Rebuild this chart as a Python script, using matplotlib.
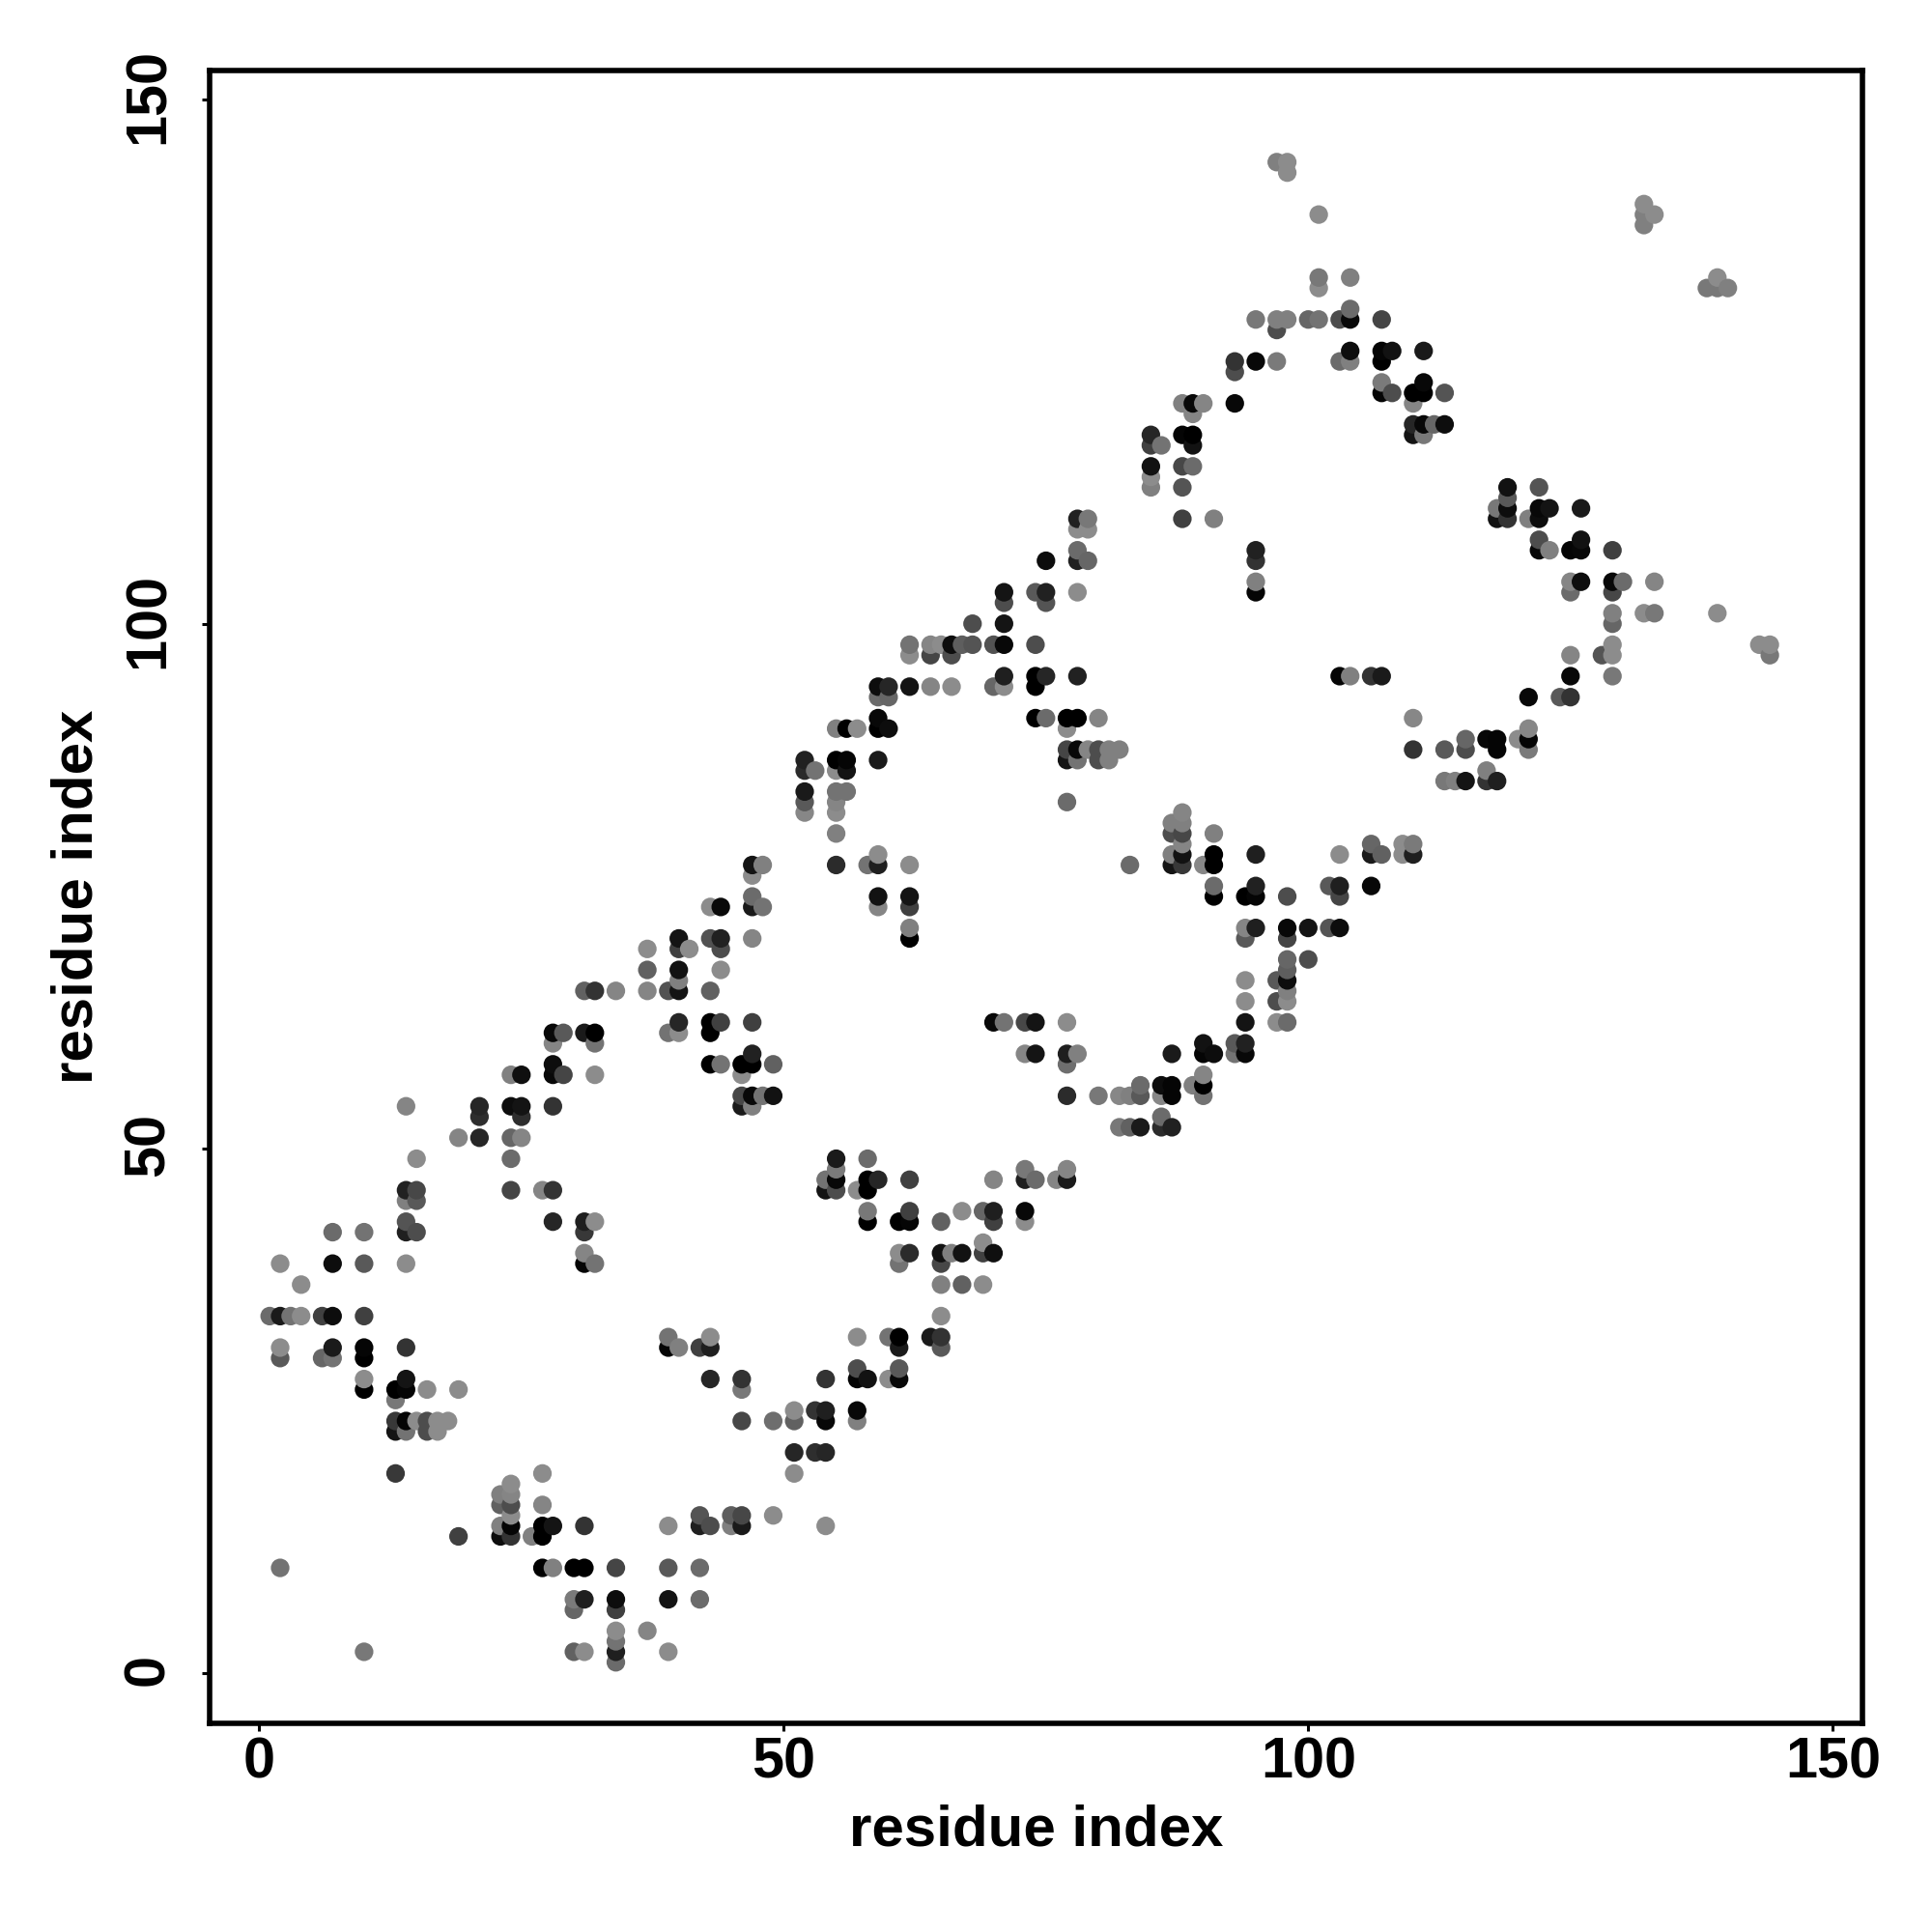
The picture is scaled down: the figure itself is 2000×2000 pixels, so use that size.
import numpy as np
import matplotlib
matplotlib.use("Agg")
import matplotlib.pyplot as plt
from matplotlib.transforms import ScaledTranslation

plt.rcParams['font.family'] = ['Liberation Sans', 'DejaVu Sans']

# contacts, one entry per row of the map
row_y = [1, 2, 3, 4, 6, 7, 10, 13, 14, 15, 16, 17, 18, 19, 21, 23, 24, 25, 26, 27,
         28, 29, 30, 31, 32, 34, 37, 39, 40, 41, 42, 43, 44, 45, 46, 47, 48, 49, 51,
         52, 53, 54, 55, 56, 57, 58, 59, 60, 61, 62, 64, 65, 66, 67, 68, 69, 70, 71, 73,
         74, 75, 76, 77, 78, 79, 80, 81, 82, 83, 84, 85, 86, 87, 88, 89, 90, 91, 93, 94, 95,
         97, 98, 100, 101, 102, 103, 104, 106, 107, 108, 109, 110, 111, 112, 113, 114, 115, 117, 118, 119,
         120, 121, 122, 123, 124, 125, 126, 128, 129, 130, 132, 133, 138, 139, 140, 143, 144]

row_x = [
    [34],
    [10, 30, 31, 34, 39],
    [34],
    [34, 37],
    [30, 34],
    [30, 31, 34, 39, 42],
    [2, 27, 28, 30, 31, 34, 39, 42],
    [19, 23, 24, 26, 27],
    [23, 24, 27, 28, 31, 39, 42, 43, 45, 46, 54],
    [24, 42, 45, 46, 49],
    [23, 24, 27],
    [23, 24],
    [24],
    [13, 27, 51],
    [51, 53, 54],
    [13, 14, 16, 17],
    [13, 14, 15, 16, 17, 18, 46, 49, 51, 54, 57],
    [51, 53, 54, 57],
    [13],
    [10, 13, 14, 16, 19, 46],
    [10, 14, 43, 46, 54, 57, 58, 60, 61],
    [57, 61],
    [2, 6, 7, 10],
    [2, 7, 10, 14, 39, 40, 42, 43, 61, 65],
    [39, 43, 57, 60, 61, 64, 65],
    [1, 2, 3, 4, 6, 7, 10, 65],
    [4, 65, 67, 69],
    [2, 7, 10, 14, 31, 32, 61, 65],
    [31, 61, 62, 65, 66, 67, 69, 70],
    [69],
    [7, 10, 14, 15, 31],
    [14, 28, 31, 32, 58, 61, 62, 65, 70, 73],
    [58, 62, 67, 69, 70, 73],
    [14, 15],
    [14, 15, 24, 27, 28, 54, 55, 57, 58],
    [54, 55, 58, 59, 62, 70, 73, 74, 76, 77],
    [55, 73, 77],
    [15, 24, 55, 58],
    [19, 21, 24, 25],
    [82, 83, 84, 86, 87],
    [21, 25, 86],
    [14, 21, 24, 25, 28, 46, 47],
    [46, 47, 48, 49, 77, 80, 82, 83, 84, 86, 87, 90],
    [84, 86, 87, 89, 90],
    [24, 25, 28, 29, 32, 46, 90],
    [28, 43, 44, 46, 47, 49, 77],
    [47, 73, 74, 77, 78, 87, 90, 91, 93, 94],
    [28, 32, 90, 93, 94],
    [28, 29, 31, 32, 39, 40, 43],
    [40, 43, 44, 47, 70, 71, 73, 74, 77, 94, 97, 98],
    [94, 97, 98],
    [31, 32, 34, 37, 39, 40, 43, 98],
    [40, 94, 97, 98],
    [37, 40, 44, 98],
    [98, 100],
    [37, 40, 41, 44],
    [40, 43, 44, 47, 62, 94, 98],
    [62, 94, 95, 98, 100, 102, 103],
    [43, 44, 47, 48, 59, 62],
    [47, 59, 62, 91, 94, 95, 98, 103],
    [91, 95, 102, 103, 106],
    [47],
    [47, 48, 55, 58, 59, 62, 83, 87, 88, 90, 91],
    [59, 87, 88, 91, 95, 103, 106, 107, 109, 110],
    [88, 106, 109, 110],
    [55, 87, 88, 91],
    [87, 88],
    [52, 55, 88],
    [52, 55, 77],
    [52, 55, 56],
    [113, 114, 115, 117, 118],
    [52, 53, 55, 56, 117],
    [52, 55, 56, 59, 77, 78, 80, 81],
    [77, 78, 79, 80, 81, 82, 110, 113, 115, 118, 121],
    [115, 117, 118, 120, 121],
    [55, 56, 57, 59, 60, 77, 121],
    [59, 74, 75, 77, 78, 80, 110],
    [59, 60, 121, 124, 125],
    [59, 60, 62, 64, 66, 70, 71, 74],
    [71, 74, 75, 78, 103, 104, 106, 107, 125, 129],
    [62, 64, 66, 125, 128, 129, 144],
    [62, 64, 65, 66, 67, 68, 70, 71, 74, 129, 143, 144],
    [68, 71, 129],
    [129, 132, 133, 139],
    [71, 75],
    [71, 74, 75, 78, 95, 125, 129],
    [95, 125, 126, 129, 130, 133],
    [75, 78, 79, 95],
    [78, 95, 122, 123, 125, 126, 129],
    [122, 126],
    [78, 79],
    [78, 79, 88, 91, 118, 119, 121, 122],
    [118, 119, 122, 123, 126],
    [119],
    [85, 88, 119, 122],
    [85],
    [85, 88, 89],
    [85, 86, 89],
    [85, 88, 89, 110, 111],
    [110, 111, 112, 113],
    [89],
    [88, 89, 90, 93, 110],
    [107, 108, 110, 111, 113],
    [107, 111],
    [93],
    [93, 95, 97, 103, 104, 107],
    [104, 107, 108, 111],
    [97],
    [95, 97, 98, 100, 101, 103, 104, 107],
    [104],
    [101, 138, 139, 140],
    [101, 104, 139],
    [132],
    [101, 132, 133],
    [132],
    [98],
    [97, 98],
]

row_gray = [
    [.42],
    [.47, .38, .55, .12, .55],
    [.45],
    [.55, .52],
    [.4, .25],
    [.48, .12, .05, .08, .42],
    [.45, 0, .5, 0, 0, .27, .35, .42],
    [.25, .05, .2, .5, 0],
    [.5, .02, 0, .08, .2, .55, .12, .3, .5, .1, .55],
    [.55, .33, .37, .28, .55],
    [.38, .3, .52],
    [.5, .52],
    [.55],
    [.22, .55, .55],
    [.15, .18, .15],
    [.08, .45, .3, .55],
    [.22, .02, .55, .3, .55, .55, .28, .43, .38, .03, .5],
    [.55, .2, .12, .03],
    [.47],
    [0, 0, .02, .55, .55, .47],
    [.55, .08, .15, .2, .2, .02, .07, .55, .03],
    [.3, .35],
    [.35, .4, .45, 0],
    [.55, .1, .02, .2, .02, .5, .25, .12, .1, .35],
    [.45, .55, .55, .45, 0, .1, .2],
    [.42, .1, .45, .55, .25, .05, .25, .55],
    [.55, .5, .38, .55],
    [.55, .05, .35, .55, .02, .45, .45, .28],
    [.52, .55, .17, .07, .5, .07, .25, .06],
    [.55],
    [.42, .45, .12, .3, .22],
    [.33, .15, .12, .55, 0, 0, .02, .38, .25, .55],
    [.47, .25, .55, .4, .12, .03],
    [.5, .35],
    [.13, .28, .27, .52, .2, .08, .3, .55, 0],
    [.45, .03, 0, .15, .25, .52, .12, .42, .52, .1],
    [.48, .47, .52],
    [.55, .42, .1, .42],
    [.52, .15, .4, .52],
    [.47, .38, .1, .17, .13],
    [.18, .18, .42],
    [.52, .15, .05, .08, .2, .1, .5],
    [.28, .03, .45, .07, .17, .47, .53, .5, .35, .53, .02, .45],
    [.42, .05, .02, .5, 0],
    [.5, .06, .03, .27, .55, .55, .52],
    [.05, 0, .45, 0, 0, .38, .43],
    [.13, .52, .08, .12, .5, .1, .02, .05, .45, .03],
    [.52, .45, .07, .35, .13],
    [.03, .35, .1, 0, .45, .55, 0],
    [.15, 0, .25, .25, .03, .45, .28, .08, .55, .08, .55, .42],
    [.55, .3, .55],
    [.38, .2, .52, .52, .32, .08, .38, .5],
    [.5, .55, .35, .05],
    [.38, .07, .55, .37],
    [.4, .3],
    [.55, .25, .55, .3],
    [.08, .32, .13, .52, 0, .35, .27],
    [.5, .52, .12, .03, .08, .33, .05],
    [.55, .04, .1, .45, .52, .25],
    [.42, .07, .08, 0, 0, .02, .3, .27],
    [.42, .13, .35, .12, .03],
    [.55],
    [.08, .5, .17, .45, .12, .55, .42, .08, .22, .53, 0],
    [.55, .5, .07, 0, .12, .55, .1, .38, .55, .12],
    [.52, .4, .55, .48],
    [.5, .3, .28, .5],
    [.5, .5],
    [.53, .55, .52],
    [.35, .52, .42],
    [.1, .45, .45],
    [.47, .5, .08, .2, .12],
    [.17, .45, .55, .08, .5],
    [.13, 0, .02, .1, .08, .45, .3, .5],
    [.27, .03, .52, .3, .5, .5, .2, .35, .3, .02, .48],
    [.4, .03, .02, .55, .02],
    [.5, 0, .55, 0, .05, .55, .53],
    [.03, 0, .42, 0, 0, .52, .53],
    [.42, .4, .03, .35, .2],
    [.05, .15, .08, .52, .55, .4, .55, 0],
    [.12, 0, .15, .13, .02, .5, .2, .1, .03, .47],
    [.55, .27, .3, .52, .33, .55, .47],
    [.45, .52, .55, .05, .37, .33, .32, .03, .3, .55, .55, .55],
    [.3, .08, .4],
    [.5, .55, .47, .55],
    [.3, .33],
    [.08, .35, .13, .55, .02, .42, .28],
    [.5, .52, .05, .03, .42, .52],
    [.05, .13, .4, .2],
    [.42, .13, .03, .5, .02, .03, .25],
    [.3, .07],
    [.55, .55],
    [.13, .47, .25, .5, .07, .2, .5, .05],
    [.47, .05, .03, .08, .1],
    [.35],
    [.5, .33, .07, .33],
    [.55],
    [.07, .28, .42],
    [.25, .45, .07],
    [.15, .02, 0, .08, .47],
    [.15, .03, .4, .05],
    [.52],
    [.5, .03, .52, .03, .52],
    [.02, .3, 0, 0, .33],
    [.48, .03],
    [.3],
    [.2, .03, .48, .42, .5, 0],
    [.05, .02, .07, .1],
    [.3],
    [.47, .5, .5, .4, .45, .3, .03, .27],
    [.42],
    [.55, .47, .47, .5],
    [.47, .5, .55],
    [.5],
    [.55, .5, .55],
    [.55],
    [.55],
    [.5, .55],
]

x_ticks = [0, 50, 100, 150]
y_ticks = [0, 50, 100, 150]

# flatten the rows, R drew them by column so later x goes on top
x = np.concatenate(row_x).astype(float)
y = np.concatenate([[v] * len(xs) for v, xs in zip(row_y, row_x)]).astype(float)
gray = np.concatenate(row_gray)
order = np.lexsort((y, x))

fig = plt.figure(figsize=(10, 10), dpi=200)
ax = fig.add_axes([216.5 / 2000, 216 / 2000, 1711.5 / 2000, 1711.3 / 2000])

ax.scatter(x[order], y[order], s=48, c=[(g, g, g) for g in gray[order]], linewidths=0)

ax.set_xlim(-4.77, 152.83)
ax.set_ylim(-4.82, 152.76)
ax.set_xticks(x_ticks)
ax.set_yticks(y_ticks)
for spine in ax.spines.values():
    spine.set_linewidth(2.0)
ax.tick_params(axis='both', length=2.9, width=1.1, labelsize=21.4)
ax.tick_params(axis='x', pad=1.8)
ax.tick_params(axis='y', pad=9.7)
# rotated labels sit a little low otherwise
shift_up = ScaledTranslation(0, 1.15 / 72, fig.dpi_scale_trans)
for label in ax.get_xticklabels():
    label.set_fontweight('bold')
for label in ax.get_yticklabels():
    label.set_fontweight('bold')
    label.set_rotation(90)
    label.set_verticalalignment('center')
    label.set_transform(label.get_transform() + shift_up)

ax.set_xlabel("residue index", fontsize=21.6, fontweight='bold', labelpad=5.7)
ax.set_ylabel("residue index", fontsize=21.6, fontweight='bold', labelpad=6.8)

fig.savefig("out.png", dpi=200)
